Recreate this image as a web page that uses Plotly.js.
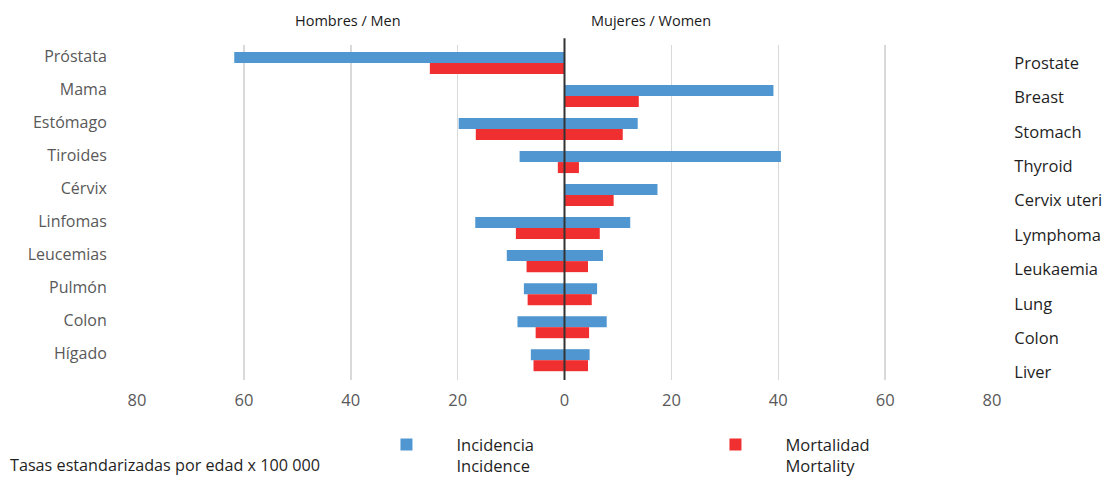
<!DOCTYPE html>
<html>
<head>
<meta charset="utf-8">
<script src="https://cdn.plot.ly/plotly-3.0.1.min.js"></script>
<style>html,body{margin:0;padding:0;background:#fff;}#chart{width:1107px;height:480px;}</style>
</head>
<body>
<div id="chart"></div>
<script>
// Categories (top to bottom)
const categoriesEs = ["Próstata", "Mama", "Estómago", "Tiroides", "Cérvix", "Linfomas", "Leucemias", "Pulmón", "Colon", "Hígado"];
const categoriesEn = ["Prostate", "Breast", "Stomach", "Thyroid", "Cervix uteri", "Lymphoma", "Leukaemia", "Lung", "Colon", "Liver"];

// Age-standardised rates per 100 000
const menIncidence    = [61.8, 0, 19.8, 8.4, 0, 16.7, 10.8, 7.6, 8.8, 6.3];
const menMortality    = [25.2, 0, 16.6, 1.25, 0, 9.1, 7.1, 6.9, 5.4, 5.8];
const womenIncidence  = [0, 39.1, 13.7, 40.5, 17.4, 12.3, 7.2, 6.1, 7.9, 4.7];
const womenMortality  = [0, 13.9, 10.9, 2.7, 9.2, 6.6, 4.4, 5.1, 4.6, 4.4];

// Axis ticks
const xTickVals  = [-80, -60, -40, -20, 0, 20, 40, 60, 80];
const xTickText  = ["80", "60", "40", "20", "0", "20", "40", "60", "80"];

const legendIncidence = "Incidencia<br>Incidence";
const legendMortality = "Mortalidad<br>Mortality";
const titleMen = "Hombres / Men";
const titleWomen = "Mujeres / Women";
const noteText = "Tasas estandarizadas por edad x 100 000";

const BLUE = "#5097d1";
const RED = "#f03030";
const FONT = "Open Sans, Noto Sans, sans-serif";

const pos = categoriesEs.map((_, i) => i);

const traces = [
  {type: "bar", orientation: "h", name: legendIncidence, legendgroup: "inc", showlegend: true,
   offsetgroup: "inc", y: pos, x: womenIncidence, marker: {color: BLUE}, hoverinfo: "skip"},
  {type: "bar", orientation: "h", name: legendIncidence, legendgroup: "inc", showlegend: false,
   offsetgroup: "inc", y: pos, x: menIncidence.map(v => -v), marker: {color: BLUE}, hoverinfo: "skip"},
  {type: "bar", orientation: "h", name: legendMortality, legendgroup: "mort", showlegend: true,
   offsetgroup: "mort", y: pos, x: womenMortality, marker: {color: RED}, hoverinfo: "skip"},
  {type: "bar", orientation: "h", name: legendMortality, legendgroup: "mort", showlegend: false,
   offsetgroup: "mort", y: pos, x: menMortality.map(v => -v), marker: {color: RED}, hoverinfo: "skip"},
  // carriers for the label axes
  {type: "scatter", mode: "markers", x: pos.map(() => 0), y: pos, yaxis: "y2",
   marker: {opacity: 0}, showlegend: false, hoverinfo: "skip"},
  {type: "scatter", mode: "markers", x: pos.map(() => 0), y: pos, yaxis: "y3",
   marker: {opacity: 0}, showlegend: false, hoverinfo: "skip"}
];

const layout = {
  width: 1107, height: 480,
  margin: {l: 137, r: 115, t: 45, b: 100, autoexpand: false},
  paper_bgcolor: "#fff", plot_bgcolor: "#fff",
  font: {family: FONT, size: 15, color: "#1f1f1f"},
  barmode: "group", bargap: 0.333, bargroupgap: 0,
  xaxis: {
    range: [-80, 80], tickvals: xTickVals, ticktext: xTickText,
    showgrid: true, gridcolor: "#d9d9d9", gridwidth: 1.5,
    zeroline: false,
    ticks: "outside", ticklen: 5, tickcolor: "rgba(0,0,0,0)",
    tickfont: {size: 16.5, color: "#595959"}, showline: false, fixedrange: true
  },
  yaxis: {
    range: [9.6, -0.545], showticklabels: false, showgrid: false, zeroline: false, fixedrange: true
  },
  yaxis2: {
    overlaying: "y", side: "left", range: [9.818, -0.333],
    tickvals: pos, ticktext: categoriesEs, showgrid: false, zeroline: false,
    ticks: "outside", ticklen: 26, tickcolor: "rgba(0,0,0,0)",
    tickfont: {size: 16, color: "#595959"}, fixedrange: true
  },
  yaxis3: {
    overlaying: "y", side: "right", range: [9.215, -0.523],
    tickvals: pos, ticktext: categoriesEn, showgrid: false, zeroline: false,
    ticks: "outside", ticklen: 18, tickcolor: "rgba(0,0,0,0)",
    tickfont: {size: 16.5, color: "#1f1f1f"}, fixedrange: true
  },
  shapes: [
    {type: "line", xref: "x", yref: "paper", x0: 0, x1: 0, y0: 0, y1: 1.02,
     line: {color: "#333", width: 2}, layer: "above"}
  ],
  showlegend: true,
  legend: {
    orientation: "h", xref: "container", yref: "container",
    x: 0.322, xanchor: "left", y: 0.11, yanchor: "top",
    itemwidth: 90, entrywidth: 224, entrywidthmode: "pixels", valign: "top",
    font: {size: 16.5, color: "#1f1f1f"}, traceorder: "normal", bgcolor: "rgba(0,0,0,0)"
  },
  annotations: [
    {text: titleMen, xref: "paper", yref: "paper", x: 0.2468, y: 1.0746, showarrow: false,
     xanchor: "center", yanchor: "middle", font: {size: 14.5, color: "#1a1a1a"}},
    {text: titleWomen, xref: "paper", yref: "paper", x: 0.601, y: 1.0746, showarrow: false,
     xanchor: "center", yanchor: "middle", font: {size: 14.5, color: "#1a1a1a"}},
    {text: noteText, xref: "paper", yref: "paper", x: -0.151, y: -0.254, showarrow: false,
     xanchor: "left", yanchor: "middle", font: {size: 16.2, color: "#1f1f1f"}}
  ]
};

Plotly.newPlot("chart", traces, layout, {displayModeBar: false, staticPlot: true});
</script>
</body>
</html>
